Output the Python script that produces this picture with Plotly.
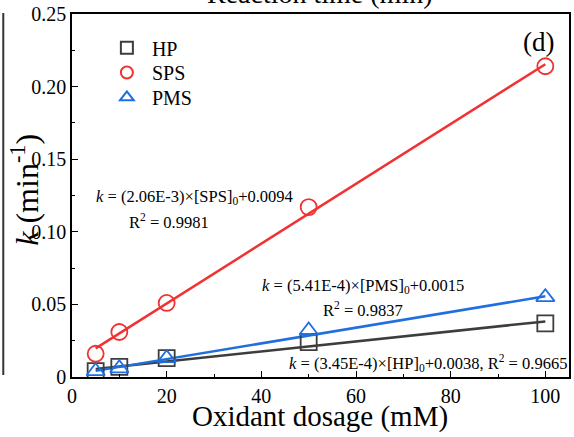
import plotly.graph_objects as go
import numpy as np

# ---- data ----
dosage = [5, 10, 20, 50, 100]
hp = [0.004, 0.007, 0.013, 0.024, 0.037]
sps = [0.016, 0.031, 0.051, 0.117, 0.214]
pms = [0.004, 0.006, 0.013, 0.032, 0.055]
series_names = ["HP", "SPS", "PMS"]
fit_slope = {"HP": 3.45e-4, "SPS": 2.06e-3, "PMS": 5.41e-4}
fit_icpt = {"HP": 0.0038, "SPS": 0.0094, "PMS": 0.0015}
x_ticks = [0, 20, 40, 60, 80, 100]
y_ticks = [0, 0.05, 0.10, 0.15, 0.20, 0.25]
y_ticklabels = ["0", "0.05", "0.10", "0.15", "0.20", "0.25"]

colors = {"HP": "#3d3d3d", "SPS": "#f03232", "PMS": "#1f6fe0"}
symbols = {"HP": "square-open", "SPS": "circle-open", "PMS": "triangle-up-open"}
values = {"HP": hp, "SPS": sps, "PMS": pms}

FONT = "Liberation Serif"
W, H = 574, 437
ML, MR, MT, MB = 72, 3, 11, 60
PW = W - ML - MR
PH = H - MT - MB


def px(xp):
    return (xp - ML) / PW


def py(yp):
    return 1 - (yp - MT) / PH


fig = go.Figure()
xfit = np.array([min(dosage), max(dosage)], dtype=float)
for name in series_names:
    fig.add_trace(go.Scatter(
        x=xfit, y=fit_slope[name] * xfit + fit_icpt[name], mode="lines",
        line=dict(color=colors[name], width=2.5), showlegend=False, hoverinfo="skip"))
legend_ids = ["legend", "legend2", "legend3"]
for name, lid in zip(series_names, legend_ids):
    fig.add_trace(go.Scatter(
        x=dosage, y=values[name], mode="markers", name=name, legend=lid,
        marker=dict(symbol=symbols[name], size=16, color=colors[name],
                    line=dict(width=1.8, color=colors[name]))))

ann_font = dict(family=FONT, size=16.5, color="black")
annotations = [
    dict(x=94, y=196, text="<i>k</i> = (2.06E-3)×[SPS]<sub>0</sub>+0.0094"),
    dict(x=127, y=220, text="R<sup>2</sup> = 0.9981"),
    dict(x=261, y=285, text="<i>k</i> = (5.41E-4)×[PMS]<sub>0</sub>+0.0015"),
    dict(x=322, y=309, text="R<sup>2</sup> = 0.9837"),
    dict(x=288, y=363, text="<i>k</i> = (3.45E-4)×[HP]<sub>0</sub>+0.0038, R<sup>2</sup> = 0.9665"),
]
for a in annotations:
    fig.add_annotation(xref="paper", yref="paper", x=px(a["x"]), y=py(a["y"]),
                       xanchor="left", yanchor="middle", text=a["text"],
                       showarrow=False, font=ann_font)
fig.add_annotation(xref="paper", yref="paper", x=px(540), y=py(39),
                   xanchor="center", yanchor="middle", text="(d)", showarrow=False,
                   font=dict(family=FONT, size=27, color="black"))
# axis titles
fig.add_annotation(xref="paper", yref="paper", x=px(321), y=py(417),
                   xanchor="center", yanchor="middle", text="Oxidant dosage (mM)",
                   showarrow=False, font=dict(family=FONT, size=29, color="black"))
fig.add_annotation(xref="paper", yref="paper", x=px(24), y=py(188),
                   xanchor="center", yanchor="middle", textangle=-90,
                   text="<i>k</i>&nbsp;(min<sup>-1</sup>)",
                   showarrow=False, font=dict(family=FONT, size=32, color="black"))
# cut-off title of the panel above
fig.add_annotation(xref="paper", yref="paper", x=px(321), y=1 + (MT - 8) / PH,
                   xanchor="center", yanchor="bottom", text="Reaction time (min)",
                   showarrow=False, font=dict(family=FONT, size=28, color="black"))
# border of neighbouring panel
fig.add_shape(type="line", xref="paper", yref="paper",
              x0=px(3), x1=px(3), y0=py(375), y1=py(10),
              line=dict(color="#333333", width=2))

legend_style = dict(xanchor="left", yanchor="middle", bgcolor="rgba(0,0,0,0)",
                    font=dict(family=FONT, size=20), itemsizing="constant", itemwidth=40)
legend_y = [45, 70, 95]

fig.update_layout(
    width=W, height=H,
    margin=dict(l=ML, r=MR, t=MT, b=MB),
    paper_bgcolor="white", plot_bgcolor="white",
    font=dict(family=FONT, color="black"),
    showlegend=True,
    legend=dict(x=px(102), y=py(legend_y[0]), **legend_style),
    legend2=dict(x=px(102), y=py(legend_y[1]), **legend_style),
    legend3=dict(x=px(102), y=py(legend_y[2]), **legend_style),
    xaxis=dict(range=[0, 105], tickvals=x_ticks, ticks="inside", ticklen=6,
               tickwidth=1.2, tickcolor="black",
               minor=dict(dtick=10, ticks="inside", ticklen=3, tickcolor="black"),
               showline=True, linecolor="black", linewidth=1.5, mirror=True,
               showgrid=False, zeroline=False,
               tickfont=dict(family=FONT, size=20)),
    yaxis=dict(range=[0, 0.25], tickvals=y_ticks, ticktext=y_ticklabels,
               ticks="inside", ticklen=6, tickwidth=1.2, tickcolor="black",
               minor=dict(dtick=0.025, tick0=0, ticks="inside", ticklen=3, tickcolor="black"),
               showline=True, linecolor="black", linewidth=1.5, mirror=True,
               showgrid=False, zeroline=False,
               tickfont=dict(family=FONT, size=20)),
)

fig.write_html("out.html")
